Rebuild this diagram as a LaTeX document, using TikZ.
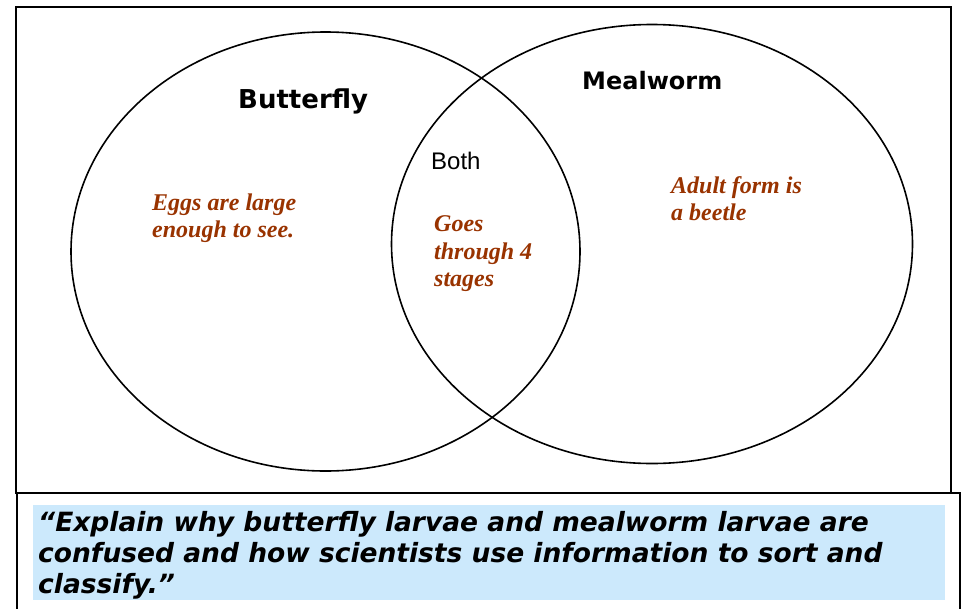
\documentclass[tikz,border=0pt]{standalone}
\usepackage{fontspec}
\setmainfont{Liberation Serif}
\newfontfamily\setfont{DejaVu Sans}
\newfontfamily\bothfont{Liberation Sans}
\usetikzlibrary{shapes.geometric}

\definecolor{notebrown}{RGB}{153,51,0}
\definecolor{askblue}{RGB}{204,233,252}

\tikzset{
  ring/.style={draw, ellipse, line width=1.6pt, inner sep=0pt},
  setname/.style={font=\setfont\bfseries, anchor=base west, inner sep=0pt},
  note/.style={font=\bfseries\itshape\fontsize{24}{27.5}\selectfont, text=notebrown,
    align=left, anchor=base west, inner sep=0pt},
}

\begin{document}
\begin{tikzpicture}[x=1pt, y=-1pt]
\useasboundingbox (0,0) rectangle (961,608);
\clip (0,0) rectangle (961,608);
\fill[white] (0,0) rectangle (961,608);

% frames
\draw[line width=2pt] (15.5,7) rectangle (951,493);
\draw[line width=2pt] (17,493) rectangle (960,630);

% the two sets
\node[ring, minimum width=509pt, minimum height=439pt] (butterflyset) at (325.5,251.5) {};
\node[ring, minimum width=521pt, minimum height=439pt] (mealwormset) at (652,244) {};

\node[setname, font=\setfont\bfseries\fontsize{26}{30}\selectfont] (butterfly) at (238,108) {Butterfly};
\node[setname, font=\setfont\bfseries\fontsize{24}{28}\selectfont] (mealworm) at (582,89) {Mealworm};
\node[anchor=base west, inner sep=0pt, font=\bothfont\fontsize{24}{28}\selectfont] (both) at (431,169.5) {Both};

% base anchor sits on the last line
\node[note] (eggs) at (152,237.5) {Eggs are large\\enough to see.};
\node[note] (stages) at (434,286.7) {Goes\\through 4\\stages};
\node[note] (adult) at (671,220.5) {Adult form is\\a beetle};

% question
\fill[askblue] (33,505) rectangle (945,600);
\node[anchor=base west, inner sep=0pt, align=left,
  font=\setfont\bfseries\itshape\fontsize{26.5}{31}\selectfont] (question) at (38,593)
  {“Explain why butterfly larvae and mealworm larvae are\\
   confused and how scientists use information to sort and\\
   classify.”};
\end{tikzpicture}
\end{document}
